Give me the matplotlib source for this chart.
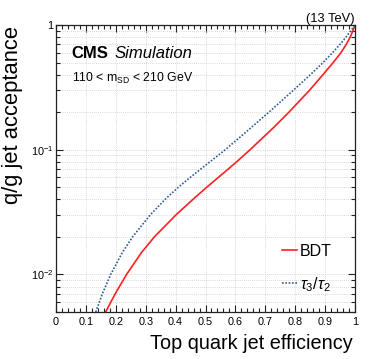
import matplotlib
matplotlib.use("Agg")
import matplotlib.pyplot as plt
from matplotlib.ticker import MultipleLocator, LogLocator, FixedLocator, NullFormatter

plt.rcParams['font.family'] = ['Liberation Sans', 'DejaVu Sans']
plt.rcParams['mathtext.fontset'] = 'custom'
plt.rcParams['mathtext.rm'] = 'Liberation Sans'
plt.rcParams['mathtext.it'] = 'Liberation Sans:italic'
plt.rcParams['mathtext.bf'] = 'Liberation Sans:bold'

# BDT curve (top quark efficiency vs q/g acceptance)
bdt_eff = [0.166, 0.198, 0.236, 0.286, 0.329, 0.401, 0.458, 0.504, 0.543, 0.576,
           0.604, 0.628, 0.649, 0.727, 0.779, 0.848, 0.893, 0.927, 0.953, 0.971,
           0.984, 0.993, 1.0]
bdt_acc = [0.005, 0.007, 0.01, 0.015, 0.02, 0.03, 0.04, 0.05, 0.06, 0.07,
           0.08, 0.09, 0.1, 0.15, 0.2, 0.3, 0.4, 0.5, 0.6, 0.7,
           0.8, 0.9, 1.0]

# tau3/tau2 curve
tau_eff = [0.133, 0.155, 0.183, 0.222, 0.256, 0.315, 0.365, 0.409, 0.449, 0.484,
           0.515, 0.542, 0.566, 0.652, 0.712, 0.794, 0.851, 0.893, 0.925, 0.950,
           0.970, 0.986, 1.0]
tau_acc = [0.005, 0.007, 0.01, 0.015, 0.02, 0.03, 0.04, 0.05, 0.06, 0.07,
           0.08, 0.09, 0.1, 0.15, 0.2, 0.3, 0.4, 0.5, 0.6, 0.7,
           0.8, 0.9, 1.0]

x_ticks = [0, 0.1, 0.2, 0.3, 0.4, 0.5, 0.6, 0.7, 0.8, 0.9, 1.0]
x_tick_labels = ["0", "0.1", "0.2", "0.3", "0.4", "0.5", "0.6", "0.7", "0.8", "0.9", "1"]
y_ticks = [0.01, 0.1, 1.0]
y_tick_labels = [r"$10^{-2}$", r"$10^{-1}$", "1"]

fig = plt.figure(figsize=(3.74, 3.59), dpi=100)
ax = fig.add_axes([56/374, 1-312/359, 299/374, 287/359])

ax.plot(bdt_eff, bdt_acc, color='#ff2020', lw=1.2, label='BDT')
ax.plot(tau_eff, tau_acc, color='#2f5d9a', lw=1.2, ls=(0, (1.0, 1.0)), label=r'$\tau_3/\tau_2$')

ax.set_yscale('log')
ax.set_xlim(0, 1)
ax.set_ylim(0.005, 1.0)

ax.xaxis.set_major_locator(FixedLocator(x_ticks))
ax.set_xticklabels(x_tick_labels)
ax.xaxis.set_minor_locator(MultipleLocator(0.02))
ax.yaxis.set_major_locator(FixedLocator(y_ticks))
ax.set_yticklabels(y_tick_labels)
ax.yaxis.set_minor_locator(LogLocator(base=10, subs=range(2, 10)))
ax.yaxis.set_minor_formatter(NullFormatter())

ax.tick_params(which='both', direction='in', top=True, right=True, width=0.8, color='#222222')
ax.tick_params(which='major', length=5, labelsize=7.8)
ax.tick_params(which='minor', length=2.6)
ax.tick_params(axis='x', pad=3.5)
ax.tick_params(axis='y', pad=2)
for s in ax.spines.values():
    s.set_linewidth(0.9)
    s.set_color('#222222')

ax.grid(True, which='major', axis='x', ls=(0, (1, 1.5)), color='#cccccc', lw=0.6)
ax.grid(True, which='both', axis='y', ls=(0, (1, 1.5)), color='#cccccc', lw=0.6)
ax.set_axisbelow(True)

ax.set_xlabel('Top quark jet efficiency', fontsize=14.3, loc='right')
ax.xaxis.set_label_coords(0.993, -0.078)
ax.set_ylabel('q/g jet acceptance', fontsize=15.8, loc='top')
ax.yaxis.set_label_coords(-0.112, 0.995)

t1 = ax.text(0.0525, 0.885, 'CMS', fontsize=12, fontweight='bold', transform=ax.transAxes,
             ha='left', va='baseline')
ax.annotate('Simulation', xy=(1, 0), xycoords=t1, xytext=(4, 0), textcoords='offset points',
            fontsize=12, fontstyle='italic', ha='left', va='bottom')
ax.text(0.0525, 0.80, r'110 < m$_{\mathrm{SD}}$ < 210 GeV', fontsize=8.8,
        transform=ax.transAxes, ha='left', va='baseline')
ax.text(1.0, 1.012, '(13 TeV)', fontsize=9.3, transform=ax.transAxes, ha='right', va='baseline')

ax.legend(loc='lower right', bbox_to_anchor=(0.96, 0.025), frameon=False, fontsize=11.5,
          handlelength=0.9, handletextpad=0.2, labelspacing=1.0, borderpad=0.2)

fig.savefig('out.png', dpi=100)
